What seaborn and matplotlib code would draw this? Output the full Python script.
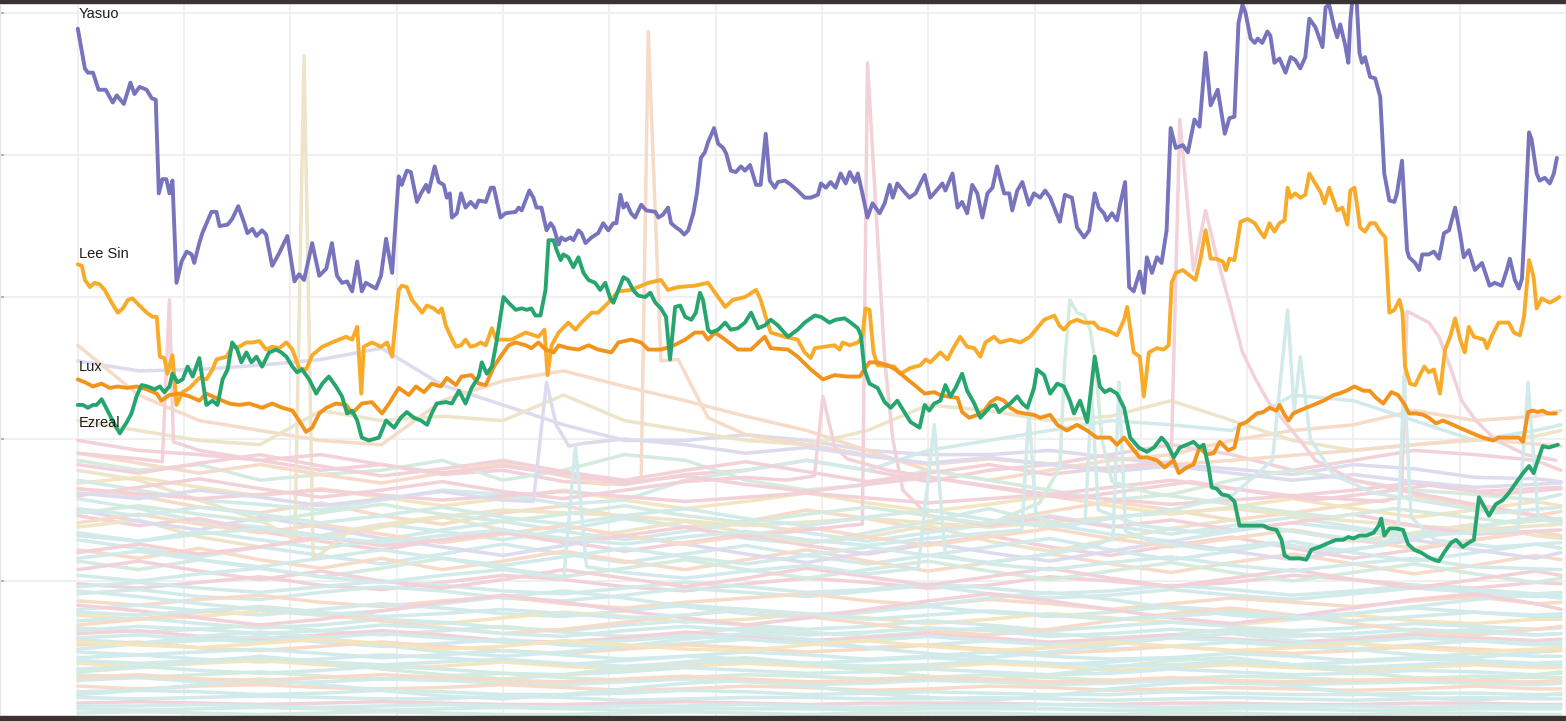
import pandas as pd
import matplotlib
matplotlib.use("Agg")
import matplotlib.pyplot as plt
from matplotlib.patches import Rectangle
import seaborn as sns

# ---- highlighted champions: (week, pick rate) points ----
yasuo = [(0.0,48.9),(1.4,46.1),(2.0,45.8),(3.0,45.8),(4.1,44.6),(5.5,44.6),(6.9,43.7),(7.7,44.2),(9.1,43.6),(10.4,45.1),(11.2,44.3),(12.2,44.8),(13.6,44.6),(14.6,44.0),(15.4,43.9),(16.0,37.3),(16.7,38.3),(17.5,38.3),(18.1,37.3),(18.7,38.2),(19.5,31.0),(20.5,32.5),(21.5,33.2),(22.5,33.0),(23.0,32.4),(24.0,33.8),(24.6,34.5),(26.4,36.0),(27.4,36.0),(28.0,35.0),(29.6,35.1),(30.5,35.5),(31.7,36.4),(32.9,35.2),(33.5,34.5),(34.5,34.8),(35.3,34.3),(36.4,34.7),(37.2,34.4),(38.4,32.2),(39.8,33.1),(41.4,34.3),(42.8,31.1),(43.7,31.6),(44.7,31.2),(46.3,33.8),(47.7,31.5),(49.1,32.0),(50.2,33.8),(51.2,31.5),(52.2,31.0),(53.2,31.1),(54.2,30.4),(55.2,32.5),(56.1,30.4),(56.9,31.0),(58.9,30.6),(59.9,31.5),(60.9,34.1),(62.1,31.7),(63.4,38.5),(64.0,37.9),(65.0,38.9),(65.8,38.8),(67.0,36.7),(67.8,37.3),(68.8,37.9),(69.3,37.4),(70.5,39.2),(71.3,38.1),(72.3,37.9),(72.9,37.0),(73.5,37.3),(73.9,35.6),(74.9,35.9),(75.7,37.3),(76.6,36.3),(77.6,36.7),(78.6,36.3),(79.2,36.8),(80.6,36.7),(81.6,37.7),(82.2,37.7),(83.5,35.6),(84.5,35.9),(86.5,36.0),(87.1,36.3),(87.7,36.1),(89.2,37.5),(90.0,37.0),(90.6,36.3),(91.6,36.3),(92.6,34.7),(93.4,35.2),(94.0,34.9),(95.0,33.7),(95.5,34.2),(96.3,34.0),(97.3,34.2),(97.9,34.0),(98.9,34.7),(99.5,34.5),(100.3,33.8),(101.5,34.2),(102.8,34.5),(103.8,35.2),(104.8,34.7),(105.8,35.2),(106.4,35.2),(107.2,37.2),(107.8,36.3),(108.4,36.6),(109.3,35.9),(110.1,35.6),(111.3,36.5),(112.3,36.1),(114.1,36.0),(114.7,35.6),(115.6,35.8),(116.6,36.3),(117.2,35.2),(118.2,34.9),(119.0,34.7),(119.8,34.4),(120.6,34.7),(121.6,35.9),(122.3,37.3),(123.1,39.8),(123.9,40.2),(124.5,40.9),(125.7,41.9),(126.5,40.8),(127.5,40.5),(128.1,40.1),(129.0,38.9),(130.0,38.8),(131.0,39.2),(131.8,38.9),(132.8,39.3),(134.0,37.9),(134.9,37.9),(135.9,41.5),(136.7,38.2),(137.7,37.7),(138.3,38.1),(139.7,38.2),(140.9,37.9),(142.2,37.5),(143.6,37.0),(144.8,37.0),(146.2,37.2),(146.8,38.0),(147.8,37.7),(148.7,38.1),(149.7,37.7),(150.7,38.7),(151.7,38.0),(152.5,38.8),(153.5,38.1),(154.1,38.7),(155.0,37.3),(156.0,35.6),(157.0,36.6),(158.4,35.9),(159.4,36.6),(160.4,37.9),(161.0,37.0),(161.9,38.0),(163.3,37.4),(164.3,37.0),(165.5,37.3),(167.3,38.6),(168.4,37.0),(169.4,37.4),(170.8,38.0),(171.4,37.5),(172.8,38.7),(173.8,36.3),(174.7,36.7),(175.7,35.9),(176.7,37.9),(177.7,37.3),(178.7,35.6),(179.7,37.3),(180.7,37.7),(181.6,39.2),(183.0,37.3),(184.0,37.3),(184.6,36.1),(185.6,37.5),(186.6,38.1),(187.9,36.5),(188.9,37.3),(190.1,37.0),(191.1,37.5),(192.1,37.0),(193.1,36.1),(194.0,35.3),(195.0,37.2),(196.4,37.0),(197.4,34.9),(198.8,34.2),(199.8,34.7),(200.9,37.3),(201.7,36.3),(202.7,35.9),(203.3,35.4),(204.3,35.9),(205.3,35.4),(205.9,36.5),(206.9,38.1),(207.7,30.7),(208.6,30.4),(209.8,31.8),(210.6,30.3),(211.2,32.8),(212.2,31.7),(213.2,32.8),(214.1,32.4),(215.1,34.7),(215.9,41.9),(216.9,40.5),(218.3,40.7),(219.3,40.2),(220.6,42.5),(221.6,42.0),(222.8,47.2),(223.8,43.5),(225.2,44.6),(226.6,41.5),(227.5,42.6),(228.5,42.7),(229.3,49.3),(230.1,50.6),(230.7,50.0),(231.7,48.2),(232.5,47.9),(233.1,48.2),(234.0,47.9),(235.0,48.7),(235.6,48.4),(236.4,46.5),(237.4,46.8),(238.6,45.8),(239.6,46.9),(240.5,46.7),(241.5,46.1),(242.5,46.9),(243.3,49.6),(244.5,49.0),(245.9,47.6),(246.5,50.4),(247.2,50.6),(248.2,49.0),(248.8,48.3),(249.4,49.2),(250.4,47.7),(251.0,46.5),(251.4,49.5),(251.9,51.3),(252.6,51.1),(253.2,47.2),(253.7,46.5),(254.3,46.9),(255.3,45.5),(256.3,45.4),(257.3,44.1),(258.1,38.7),(259.1,36.8),(260.1,36.7),(260.6,37.3),(261.6,39.6),(262.6,33.3),(263.0,32.8),(264.2,32.4),(265.0,31.9),(265.6,33.0),(266.9,33.0),(267.9,33.2),(268.9,32.7),(269.9,34.5),(270.9,34.7),(272.1,36.3),(273.1,34.4),(273.8,32.8),(274.8,33.3),(276.0,31.9),(277.4,32.4),(278.9,30.8),(279.9,31.0),(281.3,30.8),(282.3,31.9),(282.9,32.7),(283.9,31.2),(284.7,30.6),(285.3,31.3),(285.7,34.0),(286.7,41.6),(287.2,41.1),(288.2,38.7),(288.8,38.2),(289.8,38.4),(290.8,38.0),(291.6,38.7),(292.2,39.8)]

lee_sin = [(0.0,32.3),(0.8,32.2),(1.4,31.2),(2.4,30.7),(3.3,31.0),(4.3,30.9),(5.3,30.5),(6.7,29.6),(7.9,28.9),(8.9,29.2),(9.9,29.8),(10.8,29.9),(12.2,29.4),(13.6,28.9),(14.8,28.6),(15.6,28.6),(16.2,25.8),(17.1,25.7),(17.7,24.6),(18.7,25.9),(19.5,22.4),(20.7,23.3),(22.1,23.6),(24.0,24.3),(25.4,24.2),(26.6,24.9),(27.4,25.6),(29.4,25.8),(30.5,26.5),(31.9,26.5),(33.3,26.8),(34.5,26.8),(35.9,26.9),(37.2,26.3),(38.4,26.5),(39.8,26.4),(41.2,26.8),(42.4,26.3),(43.7,25.0),(45.1,24.9),(46.3,25.9),(48.3,26.5),(50.2,26.8),(53.0,27.2),(54.2,27.0),(55.2,27.9),(56.0,23.2),(56.5,26.5),(58.1,26.8),(59.9,26.5),(61.1,26.8),(62.1,25.8),(62.8,28.4),(63.4,30.5),(64.0,30.8),(65.0,30.7),(66.0,29.8),(67.4,29.2),(68.0,28.9),(69.0,29.4),(70.3,29.2),(71.3,28.9),(71.9,29.2),(72.7,28.0),(73.7,27.2),(74.7,26.5),(75.7,26.6),(76.6,27.0),(77.6,26.5),(78.6,26.6),(79.6,26.8),(80.6,26.6),(81.8,27.8),(82.7,27.0),(85.7,27.0),(88.5,27.5),(91.0,27.2),(92.2,27.7),(92.8,24.5),(93.6,26.6),(95.0,27.5),(96.9,28.2),(98.3,27.7),(99.5,28.2),(101.5,28.9),(102.8,28.9),(104.8,29.6),(106.8,30.4),(109.3,30.5),(112.7,31.0),(115.2,31.2),(116.6,30.5),(118.6,30.7),(121.9,30.8),(124.5,31.0),(125.9,30.3),(127.9,29.3),(129.4,29.8),(131.8,30.0),(134.0,30.5),(134.9,29.8),(135.9,28.6),(136.9,27.5),(139.7,27.2),(142.2,27.0),(143.6,26.1),(144.8,25.7),(145.6,26.4),(147.6,26.5),(149.5,26.6),(150.5,26.3),(151.1,26.8),(152.5,26.6),(154.1,26.8),(155.0,27.2),(155.6,29.2),(156.4,29.1),(157.2,26.1),(158.0,25.2),(161.3,25.1),(162.5,24.6),(164.5,25.0),(166.5,25.2),(167.5,25.6),(168.4,25.4),(170.4,26.1),(171.8,25.6),(172.8,26.3),(174.3,27.2),(175.7,26.5),(177.1,26.4),(178.3,25.8),(179.3,26.8),(181.0,27.2),(182.2,26.8),(184.2,27.0),(186.2,26.8),(188.1,27.2),(189.5,27.8),(190.9,28.4),(192.9,28.7),(193.9,28.0),(194.8,27.7),(196.0,28.2),(197.4,28.4),(198.8,28.2),(200.7,28.2),(201.7,27.8),(202.9,27.7),(204.3,27.5),(205.3,27.3),(206.7,28.4),(207.3,29.3),(208.6,26.1),(209.8,25.8),(210.6,23.0),(211.6,26.1),(213.2,26.4),(214.5,26.3),(215.5,26.6),(216.1,31.0),(216.9,31.7),(218.3,31.9),(219.7,31.5),(220.8,31.2),(221.8,32.7),(222.8,34.7),(223.8,32.7),(224.8,32.7),(226.2,32.5),(226.8,31.9),(227.5,32.7),(228.5,32.6),(229.7,35.3),(231.1,35.5),(232.5,35.2),(233.4,34.7),(234.4,34.2),(235.4,35.2),(236.4,34.6),(237.4,35.2),(238.4,35.4),(239.0,37.7),(239.6,37.0),(240.5,37.3),(241.5,37.0),(242.5,37.2),(243.3,38.7),(244.3,38.1),(245.5,37.4),(246.3,36.6),(247.2,37.7),(248.2,36.7),(248.8,36.1),(249.8,36.3),(250.8,35.1),(251.4,37.5),(252.2,37.7),(252.8,36.3),(253.3,34.9),(254.3,34.6),(255.3,35.2),(256.3,35.2),(257.3,34.6),(258.3,34.2),(259.1,28.9),(260.1,29.1),(261.1,29.8),(261.7,28.9),(262.2,25.1),(263.2,23.9),(264.2,23.8),(265.0,24.4),(266.0,25.1),(266.9,24.7),(267.9,24.9),(269.1,23.2),(270.1,26.3),(271.1,27.2),(272.1,28.5),(273.1,27.0),(274.0,26.1),(274.8,27.9),(275.8,27.2),(277.8,27.0),(278.4,26.4),(279.4,27.3),(280.7,28.2),(282.7,28.2),(283.7,27.5),(284.9,27.3),(285.7,28.6),(286.7,32.6),(287.6,31.4),(288.2,29.2),(289.2,29.9),(290.8,29.6),(291.8,29.8),(292.7,30.0)]

lux = [(0.0,24.2),(1.4,24.0),(3.0,23.7),(4.7,23.9),(6.3,23.6),(7.9,23.7),(9.7,23.6),(11.6,23.7),(13.6,23.5),(15.6,23.2),(16.5,22.7),(18.1,23.1),(20.1,23.2),(22.1,23.0),(24.0,22.7),(25.4,23.2),(26.6,23.0),(28.6,22.7),(29.9,22.5),(31.9,22.4),(33.9,22.5),(36.4,22.2),(38.4,22.5),(40.4,22.2),(42.4,22.0),(43.7,21.3),(45.1,20.5),(46.3,20.8),(47.7,21.8),(49.1,22.2),(51.0,22.5),(53.0,22.4),(54.2,21.8),(56.1,22.5),(58.1,22.6),(60.1,21.8),(61.5,22.5),(63.4,23.6),(65.4,23.1),(66.8,23.7),(68.4,23.3),(69.9,23.9),(71.7,23.7),(72.9,24.3),(74.7,23.8),(75.8,24.4),(77.8,24.5),(79.2,23.9),(80.6,23.8),(82.2,25.1),(83.7,25.9),(85.1,26.6),(86.5,26.8),(88.5,26.6),(89.6,26.4),(91.0,26.8),(92.4,26.3),(94.0,26.1),(95.0,26.6),(96.9,26.4),(98.9,26.3),(100.9,26.6),(102.8,26.3),(105.4,26.1),(106.8,26.8),(109.3,27.0),(111.3,26.8),(112.7,26.3),(115.2,26.3),(117.2,26.5),(120.0,27.0),(121.9,27.5),(123.5,27.5),(124.5,27.0),(125.9,27.5),(127.9,27.0),(130.4,26.3),(133.0,26.3),(135.7,27.2),(136.9,26.4),(140.3,26.3),(142.2,25.8),(144.8,24.9),(147.2,24.2),(149.5,24.5),(152.1,24.4),(154.5,24.4),(155.4,24.9),(156.4,25.4),(158.0,25.4),(160.0,25.2),(161.5,24.9),(162.9,24.5),(163.9,24.2),(165.3,23.8),(167.3,23.2),(169.2,23.3),(170.4,23.1),(171.8,23.0),(173.8,22.9),(174.7,21.9),(176.1,21.5),(177.7,21.7),(179.1,22.0),(180.3,22.6),(181.6,22.9),(183.0,22.7),(184.2,22.2),(185.6,21.9),(187.0,21.8),(188.9,21.7),(190.1,21.5),(192.1,21.7),(193.5,21.0),(195.4,20.6),(197.4,21.0),(199.4,20.6),(201.3,20.1),(203.9,20.1),(205.3,19.6),(206.7,20.1),(208.2,19.4),(209.8,18.7),(211.2,18.7),(213.2,18.5),(214.7,18.0),(216.5,18.5),(217.5,17.6),(219.1,18.0),(220.4,18.2),(221.6,19.4),(223.0,18.9),(224.4,19.0),(225.6,19.8),(227.3,19.2),(228.5,19.4),(229.5,21.0),(230.9,21.2),(232.9,21.8),(234.2,21.9),(235.4,22.2),(236.8,22.0),(237.4,22.4),(238.4,21.7),(239.2,21.3),(240.1,21.8),(241.3,22.0),(244.1,22.4),(246.1,22.7),(248.1,23.1),(249.2,23.2),(250.6,23.4),(252.2,23.7),(254.0,23.4),(255.2,23.4),(256.5,22.9),(257.9,22.5),(259.5,23.3),(260.8,23.1),(262.0,22.5),(263.0,21.8),(264.4,21.8),(265.8,21.7),(266.9,21.5),(268.3,21.1),(269.7,21.3),(271.7,21.0),(272.9,20.8),(274.2,20.6),(276.2,20.3),(277.6,20.1),(279.6,19.9),(280.7,20.1),(282.1,20.1),(283.5,20.1),(284.7,20.1),(285.5,19.8),(286.5,21.9),(287.4,22.0),(288.4,21.9),(289.4,22.0),(290.4,21.8),(292.0,21.8)]

ezreal = [(0.0,22.4),(1.0,22.4),(2.0,22.2),(3.0,22.4),(3.7,22.4),(4.7,22.8),(5.3,22.4),(6.3,21.7),(7.3,21.0),(8.3,20.4),(9.7,21.2),(10.6,21.8),(11.6,23.0),(12.6,23.8),(13.8,23.7),(15.2,23.5),(16.2,23.7),(17.1,23.3),(18.1,23.7),(18.7,24.6),(19.7,24.0),(20.7,24.2),(21.7,25.1),(22.7,24.4),(24.0,25.7),(25.4,22.4),(26.6,22.7),(27.6,22.4),(28.6,24.2),(29.6,24.9),(30.5,26.8),(31.5,26.3),(32.3,25.4),(33.3,26.1),(34.3,25.4),(35.3,25.8),(36.4,25.1),(37.8,26.1),(39.2,26.3),(40.2,26.1),(41.2,25.8),(42.4,25.1),(43.3,24.7),(44.3,24.9),(45.7,24.2),(47.1,23.2),(48.3,23.9),(49.6,24.4),(51.0,23.7),(52.2,23.0),(53.2,21.8),(54.2,22.0),(55.2,21.3),(56.1,20.1),(57.5,19.9),(59.5,20.1),(60.9,21.3),(62.5,20.8),(63.8,21.5),(65.0,21.9),(66.4,21.5),(67.8,21.3),(69.0,21.0),(69.9,21.8),(70.9,22.5),(72.7,22.6),(73.9,22.5),(75.3,23.4),(76.6,22.5),(77.8,23.6),(79.2,24.4),(79.8,25.4),(80.8,24.6),(81.8,25.1),(82.7,26.8),(84.1,30.0),(85.1,29.6),(86.5,29.1),(87.7,29.2),(88.7,29.1),(89.6,29.2),(90.4,28.7),(91.4,28.7),(92.4,30.5),(93.0,34.0),(94.0,34.0),(94.6,33.3),(95.4,32.6),(95.9,33.0),(96.9,32.8),(97.9,32.1),(98.9,32.8),(99.9,31.7),(100.9,31.2),(102.2,31.0),(103.2,30.5),(104.2,31.0),(105.2,29.9),(105.8,29.6),(106.8,30.5),(107.8,31.4),(108.7,31.2),(109.7,30.5),(110.7,30.1),(112.1,30.0),(113.1,30.3),(114.1,29.6),(115.2,29.2),(116.2,28.6),(117.0,25.6),(118.0,29.3),(119.0,29.4),(120.0,28.6),(121.2,28.4),(122.1,28.9),(122.9,30.3),(123.5,29.8),(124.5,27.7),(125.1,27.5),(126.5,27.7),(127.9,28.2),(129.0,27.7),(130.4,27.8),(131.8,28.2),(133.0,28.9),(134.4,27.8),(135.7,28.0),(136.9,28.4),(138.3,28.0),(140.3,27.2),(142.2,27.7),(143.6,28.2),(145.6,28.7),(146.8,28.6),(148.5,28.2),(149.7,28.4),(151.5,28.5),(152.7,28.2),(154.1,27.8),(154.7,27.3),(155.4,24.9),(156.4,23.9),(158.0,23.6),(159.4,22.6),(160.6,22.2),(161.9,22.7),(163.3,21.9),(164.5,21.2),(166.3,20.8),(167.3,22.4),(168.2,22.0),(169.2,22.5),(170.4,22.7),(171.4,23.8),(172.4,23.0),(173.4,23.6),(174.7,24.6),(175.7,23.4),(177.1,22.5),(178.3,21.5),(179.3,21.9),(180.3,22.3),(181.2,22.4),(182.0,21.9),(183.0,22.2),(184.2,22.5),(185.6,23.0),(186.6,22.5),(187.6,22.2),(188.9,23.6),(189.5,24.9),(190.9,24.5),(192.1,23.2),(193.5,23.9),(194.8,23.7),(196.0,22.7),(196.8,21.8),(198.0,22.7),(199.4,21.2),(200.3,23.9),(200.9,25.8),(201.9,23.7),(202.9,23.3),(203.9,23.5),(205.3,23.2),(206.7,22.2),(207.9,20.1),(209.6,19.4),(211.2,19.1),(212.6,19.4),(214.1,20.1),(215.1,19.7),(216.5,18.7),(217.7,19.4),(219.1,19.6),(220.4,19.8),(221.6,19.4),(222.4,19.6),(223.4,18.0),(224.0,16.6),(225.0,16.5),(226.0,16.1),(227.3,16.0),(228.5,15.6),(229.5,13.9),(230.9,13.9),(232.5,13.9),(234.2,13.9),(235.4,13.7),(236.8,13.6),(237.8,12.9),(238.4,11.8),(239.4,11.6),(241.3,11.6),(242.7,11.5),(243.7,12.2),(245.3,12.4),(247.2,12.7),(248.6,12.9),(250.0,12.9),(251.0,13.1),(252.0,13.0),(253.2,13.2),(254.6,13.2),(256.0,13.4),(257.0,13.9),(257.5,14.4),(258.1,13.2),(259.1,13.7),(260.4,13.7),(261.8,13.6),(262.8,12.6),(264.0,12.2),(265.4,12.0),(266.7,11.7),(267.9,11.5),(268.9,11.4),(269.9,12.0),(271.3,12.7),(272.3,12.9),(273.6,12.4),(274.8,12.7),(275.8,12.9),(276.8,15.9),(278.8,14.6),(280.1,15.4),(281.5,15.7),(282.7,16.2),(284.1,16.9),(285.5,17.6),(286.7,18.1),(287.6,17.6),(289.4,19.5),(290.6,19.4),(292.4,19.6)]

# label heights (pick rate) next to the first week
label_rates = {"Yasuo": 49.9, "Lee Sin": 33.0, "Lux": 25.1, "Ezreal": 21.1}

# ---- background champions ----
grid_weeks = [0, 12, 24, 36, 48, 60, 72, 84, 96, 108, 120, 132, 144, 156, 168, 180, 192, 204, 216, 228, 240, 252, 264, 276, 288, 293]

upper_colors = ["lavender", "peach", "beige", "pink", "cyan", "mint"]
upper_rates = [
    [25.5, 24.8, 24.9, 25.2, 25.6, 26.4, 23.8, 22.4, 21.0, 19.9, 19.9, 20.3, 19.9, 19.2, 18.9, 18.9, 19.2, 18.7, 18.2, 17.9, 17.5, 18.2, 17.9, 17.3, 17.2, 17.0],
    [26.6, 23.1, 21.3, 20.6, 19.9, 19.6, 22.7, 24.1, 24.8, 23.7, 22.7, 21.6, 20.6, 19.2, 17.8, 17.1, 17.8, 18.5, 18.9, 19.9, 20.6, 21.0, 22.0, 21.3, 21.6, 22.0],
    [21.3, 20.6, 19.9, 19.6, 22.0, 21.3, 21.6, 21.3, 23.1, 21.3, 20.6, 19.9, 19.6, 20.6, 22.4, 22.0, 21.3, 21.6, 22.7, 21.3, 19.9, 19.2, 19.6, 19.9, 20.2, 20.6],
    [19.9, 19.2, 18.9, 18.5, 17.8, 18.2, 17.5, 17.8, 17.0, 16.8, 17.5, 17.8, 18.5, 17.8, 17.0, 17.8, 18.2, 18.9, 19.6, 18.9, 17.8, 18.5, 19.2, 18.9, 18.5, 17.8],
    [17.1, 16.4, 15.7, 15.4, 15.0, 15.7, 16.4, 16.1, 15.4, 15.7, 17.1, 17.8, 18.5, 17.8, 19.2, 19.9, 20.6, 21.3, 21.0, 20.6, 23.1, 22.7, 21.3, 19.9, 20.6, 21.0],
    [18.5, 17.8, 18.2, 17.1, 17.5, 17.8, 18.5, 17.1, 17.8, 18.9, 18.5, 17.1, 16.4, 16.8, 17.8, 17.1, 16.4, 15.7, 16.1, 17.1, 17.8, 17.1, 16.4, 16.1, 15.7, 16.1],
]

middle_colors = ["peach", "cyan", "pink", "beige", "cyan", "peach", "lavender", "mint", "pink", "yellow", "cyan", "peach"]
middle_rates = [
    [16.5, 16.0, 15.2, 14.8, 15.5, 14.6, 14.0, 14.8, 15.3, 14.5, 13.8, 14.2, 15.0, 14.4, 13.6, 14.1, 14.9, 15.6, 15.0, 14.3, 14.8, 15.4, 16.0, 15.2, 14.6, 14.9],
    [15.8, 15.1, 14.2, 13.8, 13.2, 14.0, 13.5, 12.9, 13.6, 14.4, 13.8, 13.0, 12.6, 13.4, 14.2, 15.1, 14.0, 13.3, 12.8, 13.5, 14.1, 13.6, 13.0, 13.8, 14.5, 14.2],
    [14.6, 13.9, 14.4, 13.5, 12.8, 12.2, 12.9, 13.6, 12.8, 12.1, 12.7, 13.3, 12.5, 11.9, 12.6, 13.2, 12.4, 11.8, 12.5, 13.1, 12.3, 11.6, 12.2, 12.9, 13.5, 13.1],
    [13.8, 14.3, 13.1, 12.4, 13.0, 13.8, 14.5, 13.6, 12.9, 13.5, 14.2, 13.4, 12.7, 13.1, 13.9, 12.8, 12.1, 12.9, 13.7, 14.3, 13.5, 12.8, 13.4, 14.0, 13.2, 13.0],
    [12.9, 12.3, 11.7, 12.4, 11.8, 11.2, 11.9, 12.6, 11.9, 11.3, 11.9, 12.5, 11.8, 11.2, 11.8, 12.4, 13.0, 12.2, 11.5, 12.1, 12.8, 12.0, 11.4, 12.0, 12.6, 12.3],
    [12.2, 11.6, 12.3, 11.5, 10.9, 11.6, 10.8, 11.4, 12.1, 11.4, 10.8, 11.5, 12.2, 11.4, 10.7, 11.3, 11.9, 11.2, 10.6, 11.3, 11.9, 11.2, 10.5, 11.1, 11.8, 11.5],
    [15.0, 14.2, 13.6, 14.5, 13.8, 13.0, 12.4, 11.8, 12.5, 13.2, 12.6, 11.9, 11.3, 12.0, 12.7, 12.0, 11.4, 12.1, 12.8, 12.1, 11.5, 12.2, 12.9, 12.2, 11.6, 12.0],
    [11.4, 10.8, 11.5, 10.9, 10.3, 10.9, 11.6, 10.9, 10.3, 10.9, 11.5, 10.8, 10.2, 10.8, 11.4, 10.7, 10.1, 10.7, 11.3, 10.6, 10.0, 10.6, 11.2, 10.5, 9.9, 10.2],
    [10.8, 11.4, 10.7, 10.1, 10.7, 10.0, 9.5, 10.1, 10.8, 10.2, 9.6, 10.2, 10.9, 10.3, 9.7, 10.3, 10.9, 10.2, 9.6, 10.2, 10.8, 10.1, 9.5, 10.1, 10.7, 10.4],
    [16.9, 17.3, 16.6, 16.0, 16.5, 15.9, 15.3, 15.8, 16.4, 15.7, 15.1, 15.6, 16.2, 15.5, 14.9, 15.4, 16.0, 15.3, 14.7, 15.2, 15.8, 15.1, 14.5, 15.0, 15.6, 15.3],
    [13.4, 12.8, 13.5, 12.9, 12.3, 12.9, 13.6, 14.2, 13.5, 12.9, 13.5, 14.1, 13.4, 12.8, 13.4, 14.0, 14.6, 13.9, 13.3, 13.9, 14.5, 13.8, 13.2, 13.8, 14.4, 14.1],
    [14.1, 14.7, 14.0, 13.4, 14.0, 13.3, 12.7, 13.3, 13.9, 13.2, 12.6, 13.2, 13.8, 13.1, 12.5, 13.1, 13.7, 13.0, 12.4, 13.0, 13.6, 12.9, 12.3, 12.9, 13.5, 13.2],
]

lower_colors = ["pink", "cyan", "peach", "cyan", "yellow", "cyan", "mint", "pink", "cyan", "peach",
                "cyan", "cyan", "yellow", "cyan", "mint", "cyan", "peach", "cyan", "cyan", "pink",
                "cyan", "mint", "cyan", "peach", "cyan", "mint", "cyan", "pink", "cyan", "cyan",
                "cyan", "cyan", "peach", "cyan", "yellow", "cyan"]
lower_rates = [
    [9.8, 9.5, 9.9, 10.3, 9.7, 9.4, 9.9, 10.4, 10.1, 9.6, 9.3, 9.8, 10.2, 9.9, 9.5, 9.7, 10.3, 10.0, 9.6, 9.9, 10.4, 10.1, 9.7, 9.5, 9.9, 9.8],
    [9.1, 9.4, 8.9, 8.7, 9.2, 9.6, 9.3, 8.8, 8.6, 9.0, 9.5, 9.2, 8.9, 9.3, 9.7, 9.1, 8.8, 9.0, 9.4, 9.0, 8.7, 9.1, 9.5, 9.2, 8.9, 9.0],
    [8.6, 8.3, 8.7, 9.0, 8.5, 8.2, 8.6, 8.9, 8.4, 8.1, 8.5, 8.8, 9.1, 8.6, 8.3, 8.7, 8.4, 8.0, 8.4, 8.8, 8.5, 8.2, 8.6, 8.9, 8.4, 8.5],
    [8.0, 8.3, 7.9, 7.6, 8.0, 8.4, 8.1, 7.7, 7.5, 7.9, 8.3, 8.0, 7.6, 7.9, 8.2, 7.8, 7.5, 7.8, 8.2, 7.9, 7.5, 7.7, 8.1, 7.8, 7.6, 7.7],
    [7.6, 7.3, 7.5, 7.9, 7.6, 7.2, 7.0, 7.4, 7.8, 7.5, 7.1, 7.3, 7.7, 7.4, 7.0, 7.3, 7.7, 7.4, 7.1, 6.9, 7.3, 7.6, 7.2, 7.0, 7.3, 7.3],
    [7.2, 7.4, 7.0, 6.7, 6.9, 7.3, 7.1, 6.7, 6.5, 6.9, 7.2, 6.9, 6.6, 6.8, 7.2, 6.9, 6.5, 6.8, 7.1, 6.8, 6.5, 6.7, 7.0, 6.8, 6.6, 6.7],
    [6.7, 6.4, 6.6, 6.9, 6.5, 6.2, 6.5, 6.8, 6.4, 6.1, 6.3, 6.7, 6.4, 6.1, 6.4, 6.7, 6.3, 6.0, 6.2, 6.6, 6.3, 6.0, 6.3, 6.6, 6.2, 6.3],
    [6.3, 6.5, 6.1, 5.9, 6.2, 6.5, 6.2, 5.8, 5.7, 6.0, 6.4, 6.1, 5.8, 6.0, 6.3, 6.0, 5.7, 5.9, 6.2, 5.9, 5.7, 5.9, 6.2, 6.0, 5.8, 5.9],
    [5.9, 5.6, 5.8, 6.1, 5.7, 5.4, 5.6, 5.9, 5.5, 5.3, 5.6, 5.9, 5.6, 5.3, 5.5, 5.8, 5.5, 5.2, 5.4, 5.7, 5.4, 5.2, 5.5, 5.8, 5.5, 5.5],
    [5.5, 5.7, 5.3, 5.1, 5.4, 5.7, 5.4, 5.1, 4.9, 5.2, 5.5, 5.3, 5.0, 5.2, 5.5, 5.2, 4.9, 5.1, 5.4, 5.1, 4.9, 5.1, 5.4, 5.2, 5.0, 5.1],
    [5.0, 4.8, 5.0, 5.2, 4.9, 4.6, 4.8, 5.1, 4.8, 4.5, 4.7, 5.0, 4.8, 4.5, 4.7, 5.0, 4.7, 4.5, 4.6, 4.9, 4.7, 4.4, 4.6, 4.9, 4.7, 4.7],
    [4.6, 4.8, 4.5, 4.3, 4.5, 4.8, 4.6, 4.3, 4.1, 4.4, 4.7, 4.5, 4.2, 4.4, 4.6, 4.4, 4.1, 4.3, 4.6, 4.3, 4.1, 4.3, 4.5, 4.4, 4.2, 4.3],
    [4.2, 4.0, 4.2, 4.4, 4.1, 3.9, 4.0, 4.3, 4.0, 3.8, 4.0, 4.2, 4.0, 3.8, 3.9, 4.2, 4.0, 3.7, 3.9, 4.1, 3.9, 3.7, 3.9, 4.1, 3.9, 3.9],
    [3.8, 4.0, 3.7, 3.5, 3.7, 4.0, 3.8, 3.5, 3.4, 3.6, 3.9, 3.7, 3.5, 3.6, 3.8, 3.6, 3.4, 3.5, 3.8, 3.6, 3.4, 3.5, 3.7, 3.6, 3.4, 3.5],
    [3.4, 3.2, 3.4, 3.6, 3.3, 3.1, 3.3, 3.5, 3.2, 3.0, 3.2, 3.4, 3.3, 3.1, 3.2, 3.4, 3.2, 3.0, 3.1, 3.3, 3.2, 3.0, 3.1, 3.3, 3.2, 3.2],
    [3.0, 3.2, 2.9, 2.8, 2.9, 3.1, 3.0, 2.8, 2.7, 2.9, 3.1, 2.9, 2.7, 2.8, 3.0, 2.9, 2.7, 2.8, 3.0, 2.8, 2.7, 2.8, 2.9, 2.8, 2.7, 2.8],
    [2.6, 2.4, 2.6, 2.7, 2.5, 2.4, 2.5, 2.7, 2.5, 2.3, 2.4, 2.6, 2.5, 2.3, 2.4, 2.6, 2.5, 2.3, 2.4, 2.5, 2.4, 2.3, 2.4, 2.6, 2.4, 2.4],
    [2.2, 2.3, 2.2, 2.0, 2.1, 2.3, 2.2, 2.0, 2.0, 2.1, 2.3, 2.2, 2.0, 2.1, 2.2, 2.1, 2.0, 2.0, 2.2, 2.1, 2.0, 2.0, 2.1, 2.1, 2.0, 2.0],
    [1.8, 1.7, 1.8, 1.9, 1.8, 1.7, 1.7, 1.9, 1.8, 1.6, 1.7, 1.8, 1.8, 1.7, 1.7, 1.8, 1.7, 1.6, 1.7, 1.8, 1.7, 1.6, 1.7, 1.8, 1.7, 1.7],
    [1.4, 1.5, 1.4, 1.3, 1.4, 1.5, 1.4, 1.3, 1.3, 1.4, 1.5, 1.4, 1.3, 1.4, 1.4, 1.4, 1.3, 1.3, 1.4, 1.4, 1.3, 1.3, 1.4, 1.4, 1.3, 1.3],
    [1.0, 0.9, 1.0, 1.1, 1.0, 0.9, 1.0, 1.1, 1.0, 0.9, 1.0, 1.0, 1.0, 0.9, 1.0, 1.0, 1.0, 0.9, 0.9, 1.0, 1.0, 0.9, 0.9, 1.0, 1.0, 1.0],
    [0.7, 0.8, 0.7, 0.6, 0.7, 0.8, 0.7, 0.6, 0.6, 0.7, 0.8, 0.7, 0.6, 0.7, 0.7, 0.7, 0.6, 0.6, 0.7, 0.7, 0.6, 0.6, 0.7, 0.7, 0.6, 0.6],
    [9.3, 8.9, 8.4, 8.0, 7.6, 7.9, 8.4, 8.9, 9.3, 8.8, 8.2, 7.7, 7.4, 7.8, 8.3, 8.8, 9.2, 8.7, 8.1, 7.6, 7.3, 7.7, 8.2, 8.7, 9.0, 8.8],
    [6.9, 7.3, 7.8, 8.2, 7.8, 7.2, 6.7, 6.3, 6.6, 7.1, 7.6, 8.0, 7.5, 7.0, 6.5, 6.2, 6.6, 7.2, 7.7, 8.1, 7.6, 7.0, 6.5, 6.2, 6.6, 6.8],
    [5.2, 5.6, 6.1, 6.4, 6.0, 5.5, 5.0, 4.7, 5.0, 5.4, 5.9, 6.3, 5.9, 5.3, 4.9, 4.6, 5.0, 5.5, 6.0, 6.3, 5.8, 5.2, 4.8, 4.6, 5.0, 5.3],
    [3.6, 3.9, 4.3, 4.7, 4.3, 3.8, 3.4, 3.1, 3.4, 3.9, 4.3, 4.6, 4.2, 3.7, 3.3, 3.0, 3.4, 3.9, 4.4, 4.6, 4.1, 3.6, 3.2, 3.0, 3.4, 3.6],
    [2.0, 2.3, 2.7, 3.1, 2.7, 2.3, 1.9, 1.7, 2.0, 2.4, 2.8, 3.0, 2.6, 2.1, 1.8, 1.6, 1.9, 2.4, 2.8, 3.0, 2.6, 2.1, 1.8, 1.6, 1.9, 2.1],
    [8.3, 7.9, 7.4, 6.9, 7.3, 7.9, 8.5, 9.0, 8.5, 7.9, 7.4, 6.9, 7.4, 8.0, 8.6, 9.1, 8.6, 8.0, 7.4, 7.0, 7.5, 8.1, 8.7, 9.1, 8.4, 8.0],
    [9.6, 9.9, 9.5, 9.2, 9.6, 10.0, 9.7, 9.3, 9.1, 9.5, 9.9, 9.6, 9.2, 9.4, 9.8, 9.5, 9.1, 9.3, 9.7, 9.4, 9.0, 9.3, 9.7, 9.4, 9.1, 9.2],
    [7.8, 7.6, 7.9, 8.2, 7.8, 7.5, 7.7, 8.0, 7.7, 7.4, 7.6, 8.0, 7.7, 7.3, 7.6, 7.9, 7.6, 7.3, 7.5, 7.8, 7.5, 7.2, 7.5, 7.8, 7.5, 7.5],
    [6.0, 6.2, 5.9, 5.7, 6.0, 6.3, 6.0, 5.7, 5.6, 5.8, 6.1, 5.9, 5.6, 5.8, 6.1, 5.8, 5.5, 5.7, 6.0, 5.8, 5.5, 5.7, 6.0, 5.8, 5.6, 5.7],
    [4.4, 4.2, 4.4, 4.6, 4.3, 4.1, 4.3, 4.5, 4.2, 4.0, 4.2, 4.4, 4.2, 4.0, 4.1, 4.4, 4.2, 4.0, 4.1, 4.3, 4.1, 3.9, 4.1, 4.3, 4.1, 4.1],
    [3.2, 3.4, 3.1, 3.0, 3.2, 3.4, 3.2, 3.0, 2.9, 3.1, 3.3, 3.1, 2.9, 3.0, 3.2, 3.1, 2.9, 3.0, 3.2, 3.0, 2.9, 3.0, 3.1, 3.0, 2.9, 3.0],
    [1.2, 1.2, 1.3, 1.2, 1.1, 1.2, 1.3, 1.2, 1.1, 1.2, 1.2, 1.3, 1.2, 1.1, 1.2, 1.2, 1.3, 1.2, 1.1, 1.2, 1.2, 1.2, 1.1, 1.2, 1.2, 1.2],
    [5.7, 5.5, 5.3, 5.6, 5.9, 5.6, 5.2, 5.4, 5.8, 5.5, 5.2, 5.1, 5.5, 5.8, 5.4, 5.1, 5.3, 5.7, 5.4, 5.1, 5.3, 5.6, 5.3, 5.0, 5.2, 5.3],
    [6.5, 6.8, 6.6, 6.3, 6.5, 6.9, 6.7, 6.3, 6.1, 6.5, 6.8, 6.5, 6.2, 6.4, 6.7, 6.5, 6.1, 6.3, 6.6, 6.4, 6.1, 6.3, 6.6, 6.4, 6.2, 6.3],
]

# background champions with one-week spikes, (week, rate) points
spike_beige = [(0, 17.8), (12, 17.1), (24, 15.7), (36, 14.3), (42.9, 12.9), (44.7, 47.0), (46.5, 11.5), (54, 13.6), (66, 14.3), (84, 15.0), (108, 14.6), (132, 13.9), (156, 14.4), (180, 13.8), (204, 14.5), (228, 15.1), (252, 14.2), (276, 13.6), (293, 14.0)]
spike_peach = [(0, 19.0), (12, 18.3), (24, 17.6), (36, 18.2), (48, 17.5), (60, 16.9), (72, 17.6), (84, 18.3), (96, 17.4), (104, 16.8), (111.3, 17.2), (112.7, 48.7), (115.2, 25.5), (118.6, 25.6), (124.5, 21.5), (132, 20.3), (144, 19.6), (156, 18.9), (168, 18.2), (180, 18.6), (204, 17.9), (228, 18.5), (252, 19.2), (276, 20.0), (293, 19.5)]
spike_pink_a = [(0, 12.0), (12, 12.6), (24, 11.9), (36, 12.4), (48, 13.1), (60, 12.5), (72, 12.9), (84, 13.4), (96, 12.7), (108, 13.2), (120, 13.8), (132, 13.1), (144, 13.6), (152, 13.9), (155.0, 14.0), (156.0, 46.5), (159.4, 25.6), (161.0, 20.0), (163.0, 16.4), (168, 14.6), (180, 13.9), (192, 14.5), (204, 13.8), (216, 14.3), (228, 13.6), (240, 14.1), (252, 14.7), (264, 13.9), (276, 13.3), (293, 13.6)]
spike_pink_b = [(0, 16.0), (12, 16.6), (24, 17.2), (36, 16.5), (48, 15.9), (60, 16.4), (72, 17.0), (84, 16.3), (96, 15.8), (108, 16.4), (120, 17.0), (132, 17.3), (140, 17.1), (145.5, 17.4), (147.2, 23.0), (149.5, 19.5), (152, 18.6), (160, 17.8), (172, 17.1), (184, 16.4), (196, 15.8), (208, 16.4), (220, 17.0), (232, 16.3), (244, 15.7), (256, 16.2), (268, 16.8), (280, 16.1), (293, 16.5)]
spike_pink_c = [(0, 18.2), (12, 17.6), (24, 18.3), (36, 18.9), (48, 18.1), (60, 17.4), (72, 17.9), (84, 18.5), (96, 17.7), (108, 17.1), (120, 17.8), (132, 18.4), (144, 17.7), (156, 17.0), (168, 17.6), (180, 18.2), (192, 17.5), (204, 18.0), (216, 18.4), (217.7, 42.5), (220.4, 31.9), (222.8, 36.1), (224.8, 33.1), (227.5, 29.6), (230.1, 26.1), (232.7, 24.2), (235.4, 22.5), (239.4, 20.8), (241.9, 19.7), (244.5, 18.5), (252, 17.1), (264, 16.2), (276, 15.4), (293, 14.3)]
spike_pink_d = [(0, 19.0), (12, 18.6), (16.7, 18.4), (18.1, 29.8), (18.9, 19.8), (24, 19.2), (36, 18.5), (48, 18.9), (60, 18.2), (72, 17.6), (84, 18.1), (96, 17.5), (108, 16.9), (120, 17.4), (132, 16.8), (144, 16.3), (156, 16.8), (168, 17.3), (180, 16.7), (192, 16.1), (204, 16.6), (216, 17.1), (228, 16.5), (240, 16.0), (252, 16.4), (264, 16.9), (276, 16.3), (293, 16.6)]
spike_pink_e = [(0, 16.5), (24, 15.8), (48, 16.4), (72, 15.7), (96, 16.3), (120, 15.6), (144, 16.2), (168, 15.5), (192, 16.1), (216, 15.4), (240, 16.0), (258, 15.6), (261.5, 16.0), (262.6, 29.0), (266.9, 28.2), (268.9, 27.2), (271.3, 24.9), (273.4, 22.7), (276.2, 21.3), (280.2, 19.9), (286.1, 18.9), (292.0, 18.5)]
spike_lavender = [(0, 16.2), (12, 15.8), (24, 16.4), (36, 15.9), (48, 15.3), (60, 15.8), (72, 16.3), (84, 15.7), (90, 15.6), (92.6, 24.0), (94.5, 21.0), (97, 19.5), (100, 19.7), (108, 20.0), (120, 19.6), (132, 19.0), (144, 19.4), (156, 18.8), (168, 18.3), (180, 18.7), (192, 18.2), (204, 17.7), (216, 18.1), (228, 17.6), (240, 17.1), (252, 17.5), (264, 17.0), (276, 16.6), (293, 16.9)]
spike_cyan_a = [(0, 15.1), (12, 14.6), (24, 15.2), (36, 14.7), (48, 14.1), (60, 14.6), (72, 15.2), (84, 14.5), (96, 14.0), (108, 14.6), (120, 15.1), (132, 14.4), (144, 13.9), (156, 14.5), (168, 15.0), (180, 14.3), (192, 13.8), (204, 14.4), (216, 15.0), (228, 16.0), (236, 18.5), (239.0, 29.1), (240.3, 22.0), (241.5, 25.8), (243.5, 20.0), (248, 17.5), (256, 16.2), (268, 15.5), (280, 14.8), (293, 15.2)]
spike_mint = [(0, 14.8), (12, 15.3), (24, 14.7), (36, 14.2), (48, 14.8), (60, 15.4), (72, 14.7), (84, 14.2), (96, 14.7), (108, 15.3), (120, 14.6), (132, 14.1), (144, 14.7), (156, 15.2), (168, 14.6), (180, 14.0), (190, 15.5), (194.0, 18.0), (195.0, 25.5), (196.0, 29.8), (197.4, 28.9), (198.8, 28.7), (200.0, 27.7), (201.0, 25.4), (202.3, 20.0), (204.3, 17.0), (212, 16.2), (224, 15.6), (236, 15.0), (248, 14.5), (260, 15.1), (272, 14.6), (284, 14.1), (293, 14.4)]
spike_cyan_b = [(0, 11.6), (12, 12.1), (24, 11.5), (36, 11.0), (48, 11.6), (60, 12.2), (72, 11.6), (84, 11.1), (96, 11.7), (108, 12.3), (120, 11.7), (132, 11.2), (144, 11.8), (156, 12.4), (168, 11.8), (180, 11.3), (192, 11.9), (200, 12.4), (204.5, 13.0), (205.7, 24.0), (207.0, 13.5), (212, 12.8), (224, 12.2), (236, 12.7), (248, 12.1), (258, 12.5), (260.8, 13.5), (262.0, 24.4), (263.4, 14.5), (268, 12.9), (280, 12.4), (293, 12.7)]
spike_cyan_c = [(0, 13.2), (12, 12.8), (24, 13.3), (36, 13.7), (48, 13.1), (60, 12.7), (72, 13.2), (84, 13.6), (96, 13.0), (108, 12.6), (120, 13.1), (132, 13.5), (144, 12.9), (156, 12.5), (168, 13.0), (180, 13.4), (186.5, 13.6), (187.9, 22.0), (189.3, 14.5), (196, 13.8), (199.0, 14.2), (200.3, 23.2), (201.6, 15.0), (210, 13.9), (222, 13.4), (234, 13.8), (246, 13.2), (258, 12.8), (270, 13.3), (284.5, 13.6), (286.5, 24.0), (288.5, 14.5), (293, 14.1)]
spike_cyan_d = [(0, 10.4), (12, 10.0), (24, 10.5), (36, 10.9), (48, 10.3), (60, 9.9), (72, 10.4), (84, 10.8), (96, 10.2), (98.3, 19.5), (100.5, 11.0), (108, 10.6), (120, 10.2), (132, 10.7), (144, 11.1), (156, 10.5), (166, 10.9), (169.2, 21.0), (171.4, 11.8), (180, 11.2), (192, 10.8), (204, 11.3), (216, 11.7), (228, 11.1), (240, 10.7), (252, 11.2), (264, 11.6), (276, 11.0), (293, 10.8)]

spike_series = [
    (spike_beige, "beige"), (spike_peach, "peach"), (spike_pink_a, "pink"), (spike_pink_b, "pink"),
    (spike_pink_c, "pink"), (spike_pink_d, "pink"), (spike_pink_e, "pink"), (spike_lavender, "lavender"),
    (spike_cyan_a, "cyan"), (spike_mint, "mint"), (spike_cyan_b, "cyan"), (spike_cyan_c, "cyan"),
    (spike_cyan_d, "cyan"),
]

pastels = {
    "pink": "#f2d2d8", "peach": "#f6dcc8", "beige": "#ece5c9", "cyan": "#d3eaea",
    "lavender": "#dddbee", "mint": "#d5ebdf", "yellow": "#f5e5bf",
}
champ_colors = {"Lee Sin": "#f8ab28", "Lux": "#f2931b", "Ezreal": "#27a56f", "Yasuo": "#7773bd"}


def build_background():
    rows = []
    colors = {}
    groups = [(lower_rates, lower_colors), (middle_rates, middle_colors), (upper_rates, upper_colors)]
    n = 0
    for rates, cols in groups:
        for vals, col in zip(rates, cols):
            rows += [(f"bg{n}", w, v) for w, v in zip(grid_weeks, vals)]
            colors[f"bg{n}"] = pastels[col]
            n += 1
    for pts, col in spike_series:
        rows += [(f"bg{n}", w, v) for w, v in pts]
        colors[f"bg{n}"] = pastels[col]
        n += 1
    return pd.DataFrame(rows, columns=["series", "week", "rate"]), colors


def build_highlights():
    rows = []
    for name, pts in [("Lee Sin", lee_sin), ("Lux", lux), ("Ezreal", ezreal), ("Yasuo", yasuo)]:
        rows += [(name, w, v) for w, v in pts]
    return pd.DataFrame(rows, columns=["champion", "week", "rate"])


def plot_popularity():
    sns.set_theme(style="whitegrid")
    plt.rcParams["font.family"] = ["Liberation Sans", "DejaVu Sans"]

    fig = plt.figure(figsize=(15.66, 7.21), dpi=100)
    ax = fig.add_axes([0, 0, 1, 1])

    bg, bg_colors = build_background()
    sns.lineplot(data=bg, x="week", y="rate", hue="series", palette=bg_colors,
                 estimator=None, sort=False, linewidth=2.5, legend=False, ax=ax)

    hi = build_highlights()
    sns.lineplot(data=hi, x="week", y="rate", hue="champion", palette=champ_colors,
                 estimator=None, sort=False, linewidth=2.8, legend=False, ax=ax)

    for name, rate in label_rates.items():
        ax.text(0.2, rate, name, ha="left", va="center", fontsize=10.5, color="#1e1e1e")

    ax.set_xlim(-15.37, 293.1)
    ax.set_ylim(0.14, 50.92)
    ax.set_xticks(range(0, 295, 21))
    ax.set_yticks([10, 20, 30, 40, 50])
    ax.grid(True, color="#f0f0f0", linewidth=1.4)
    ax.set_axisbelow(True)
    ax.tick_params(axis="both", labelleft=False, labelbottom=False)
    ax.tick_params(axis="y", direction="in", length=3, color="#aaaaaa", left=True)
    ax.set_xlabel("")
    ax.set_ylabel("")
    for side in ["top", "right", "bottom"]:
        ax.spines[side].set_visible(False)
    ax.spines["left"].set_color("#e4e4e4")
    ax.spines["left"].set_linewidth(1.0)

    # dark screenshot frame at top and bottom
    fig.add_artist(Rectangle((0, 1 - 3 / 721), 1, 3 / 721, transform=fig.transFigure,
                             color="#3b3333", zorder=10))
    fig.add_artist(Rectangle((0, 0), 1, 5 / 721, transform=fig.transFigure,
                             color="#3b3333", zorder=10))

    fig.savefig("out.png", dpi=100)


if __name__ == "__main__":
    plot_popularity()
